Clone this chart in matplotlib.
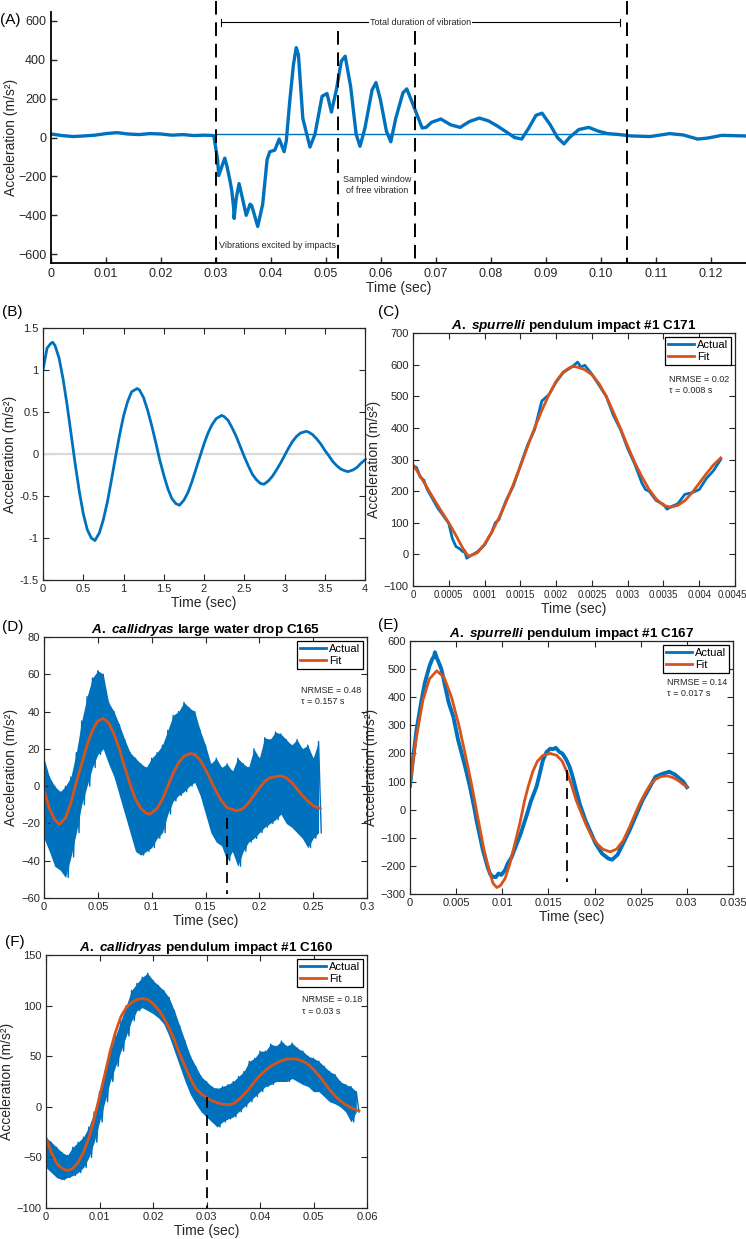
import numpy as np
import matplotlib.pyplot as plt
from matplotlib.transforms import ScaledTranslation

plt.rcParams['font.family'] = ['Liberation Sans', 'DejaVu Sans']
plt.rcParams['mathtext.fontset'] = 'custom'
plt.rcParams['mathtext.it'] = 'Liberation Sans:italic:bold'
plt.rcParams['mathtext.rm'] = 'Liberation Sans:bold'

BLUE = '#0072BD'
ORANGE = '#D95319'
GREY = '#262626'

# ---------------- (A) raw recording ----------------
a_t = [0, 0.002, 0.004, 0.006, 0.008, 0.010, 0.012, 0.014, 0.016, 0.018, 0.020, 0.022,
       0.024, 0.026, 0.028, 0.0296, 0.0303, 0.0305, 0.0311, 0.0316, 0.032, 0.0326, 0.0329,
       0.0332, 0.0333, 0.0337, 0.0342, 0.0348, 0.0355, 0.0362, 0.0365, 0.0376, 0.0385,
       0.0393, 0.0398, 0.0407, 0.0415, 0.0424, 0.0428, 0.0434, 0.0441, 0.0446, 0.0450,
       0.0458, 0.0471, 0.0480, 0.0493, 0.0502, 0.0510, 0.0519, 0.0528, 0.0535, 0.0545,
       0.0555, 0.0562, 0.0571, 0.0584, 0.0591, 0.0599, 0.0610, 0.0618, 0.0627, 0.0640,
       0.0647, 0.0657, 0.0666, 0.0675, 0.0682, 0.0692, 0.0709, 0.0727, 0.0744, 0.0761,
       0.0779, 0.0796, 0.0813, 0.0830, 0.0843, 0.0856, 0.0869, 0.0882, 0.0893, 0.0908,
       0.0921, 0.0933, 0.0943, 0.0960, 0.0978, 0.0995, 0.1012, 0.1030, 0.1055, 0.1090,
       0.1125, 0.1150, 0.1176, 0.1194, 0.1220, 0.1262]
a_v = [18, 10, 5, 8, 12, 20, 25, 18, 15, 20, 18, 12,
       15, 10, 12, 10, -114, -196, -147, -106, -147, -229, -278,
       -359, -416, -310, -237, -310, -400, -343, -350, -457, -343,
       -114, -73, -65, -8, -73, -16, 180, 376, 462, 425,
       98, -49, 16, 212, 226, 131, 245, 392, 418, 261,
       16, -45, 49, 245, 282, 196, 33, -22, 98, 229,
       250, 180, 114, 49, 52, 78, 95, 65, 52, 82,
       100, 85, 57, 25, 0, -8, 49, 114, 125, 65,
       0, -33, 0, 41, 52, 33, 20, 16, 8, 5,
       20, 13, -8, -3, 11, 8]
a_bounds = [0.0300, 0.0522, 0.0662, 0.1047]

# ---------------- (B) model damped oscillation ----------------
b_t = [0, 0.05, 0.1, 0.12, 0.15, 0.2, 0.25, 0.3, 0.35, 0.4, 0.45, 0.5, 0.55, 0.6, 0.645,
       0.7, 0.75, 0.8, 0.85, 0.9, 0.95, 1.0, 1.05, 1.1, 1.17, 1.2, 1.25, 1.3, 1.35, 1.4,
       1.45, 1.5, 1.55, 1.6, 1.65, 1.695, 1.75, 1.8, 1.85, 1.9, 1.95, 2.0, 2.05, 2.1, 2.15,
       2.22, 2.25, 2.3, 2.35, 2.4, 2.45, 2.5, 2.55, 2.6, 2.65, 2.7, 2.745, 2.8, 2.85, 2.9,
       2.95, 3.0, 3.05, 3.1, 3.15, 3.2, 3.27, 3.3, 3.35, 3.4, 3.45, 3.5, 3.55, 3.6, 3.65,
       3.7, 3.75, 3.79, 3.85, 3.9, 3.95, 4.0]
b_v = [1.0, 1.26, 1.32, 1.33, 1.29, 1.14, 0.89, 0.58, 0.23, -0.12, -0.44, -0.71, -0.9,
       -1.0, -1.03, -0.94, -0.78, -0.57, -0.31, -0.04, 0.22, 0.45, 0.62, 0.74, 0.78, 0.76,
       0.67, 0.52, 0.34, 0.14, -0.07, -0.25, -0.41, -0.53, -0.59, -0.61, -0.55, -0.46,
       -0.33, -0.18, -0.03, 0.12, 0.25, 0.35, 0.42, 0.46, 0.445, 0.40, 0.31, 0.21, 0.09,
       -0.03, -0.14, -0.24, -0.305, -0.35, -0.36, -0.32, -0.265, -0.19, -0.11, -0.02, 0.07,
       0.15, 0.21, 0.25, 0.27, 0.26, 0.23, 0.18, 0.12, 0.045, -0.02, -0.09, -0.14, -0.18,
       -0.2, -0.21, -0.19, -0.16, -0.11, -0.07]

# ---------------- (C) A. spurrelli C171 ----------------
c_fit_t = [0, 0.0001, 0.0002, 0.0003, 0.0004, 0.0005, 0.0006, 0.0007, 0.00077, 0.0008,
           0.0009, 0.001, 0.0011, 0.0012, 0.0013, 0.0014, 0.0015, 0.0016, 0.0017, 0.0018,
           0.0019, 0.002, 0.0021, 0.0022, 0.00225, 0.0023, 0.0024, 0.0025, 0.0026, 0.0027,
           0.0028, 0.0029, 0.003, 0.0031, 0.0032, 0.0033, 0.0034, 0.0035, 0.0036, 0.0037,
           0.0038, 0.0039, 0.004, 0.0041, 0.0042, 0.0043]
c_fit_v = [284, 248, 210, 172, 135, 100, 60, 18, -5, -4,
           5, 32, 70, 115, 165, 220, 279, 340, 400, 455,
           505, 547, 577, 592, 594, 592, 584, 568, 540, 500,
           450, 398, 342, 290, 245, 205, 175, 155, 149, 155,
           170, 195, 225, 255, 283, 305]
c_act_t = [0, 0.00005, 0.0001, 0.00015, 0.0002, 0.0003, 0.00035, 0.0004, 0.0005, 0.00055,
           0.0006, 0.00065, 0.0007, 0.00072, 0.00075, 0.0008, 0.0009, 0.001, 0.0011,
           0.00115, 0.0012, 0.0013, 0.0014, 0.0015, 0.0016, 0.0017, 0.0018, 0.0019, 0.002,
           0.0021, 0.0022, 0.00225, 0.0023, 0.00235, 0.0024, 0.0025, 0.0026, 0.0027,
           0.00275, 0.0028, 0.0029, 0.003, 0.0031, 0.0032, 0.00325, 0.0033, 0.0034, 0.0035,
           0.00355, 0.0036, 0.0037, 0.0038, 0.0039, 0.004, 0.0041, 0.0042, 0.0043]
c_act_v = [280, 275, 245, 235, 205, 165, 145, 130, 98, 50,
           25, 18, 8, 12, -12, -5, 8, 30, 70,
           100, 110, 170, 215, 280, 345, 395, 485, 505, 545,
           575, 590, 598, 608, 592, 598, 570, 535, 500,
           470, 440, 395, 335, 285, 225, 205, 200, 170, 158,
           143, 150, 160, 190, 195, 205, 240, 265, 300]

# ---------------- (D) A. callidryas C165 ----------------
d_fit_t = [0, 0.005, 0.01, 0.0143, 0.02, 0.025, 0.03, 0.035, 0.04, 0.045, 0.05, 0.055, 0.06,
           0.065, 0.07, 0.075, 0.08, 0.085, 0.09, 0.095, 0.0986, 0.105, 0.11, 0.115, 0.12,
           0.125, 0.13, 0.1357, 0.14, 0.145, 0.15, 0.155, 0.16, 0.165, 0.17, 0.179, 0.185,
           0.19, 0.195, 0.2, 0.205, 0.21, 0.2194, 0.225, 0.23, 0.235, 0.24, 0.245, 0.25, 0.2566]
d_fit_v = [-2, -12, -18, -20.5, -17, -9, 2, 12, 22, 30, 35, 36.3, 34,
           28, 20, 10, 1, -7, -12, -14.5, -15, -12, -7, 0, 7,
           12.5, 16, 17.5, 17, 14, 9, 3, -3, -8, -11.5, -13.3, -12,
           -9, -5, -1, 2.5, 4.5, 5.5, 4.5, 2, -1.5, -5, -8, -10.5, -12]
d_env_t = [0, 0.005, 0.01, 0.015, 0.02, 0.025, 0.03, 0.035, 0.04, 0.045, 0.05, 0.055, 0.06,
           0.065, 0.07, 0.075, 0.08, 0.085, 0.09, 0.095, 0.1, 0.105, 0.11, 0.115, 0.12,
           0.125, 0.13, 0.135, 0.14, 0.145, 0.15, 0.155, 0.16, 0.165, 0.17, 0.175, 0.18,
           0.185, 0.19, 0.195, 0.2, 0.205, 0.21, 0.215, 0.22, 0.225, 0.23, 0.235, 0.24,
           0.245, 0.25, 0.255]
d_upper = [15, 5, 0, -3, 0, 5, 18, 35, 48, 58, 62, 60, 45,
           40, 33, 25, 18, 15, 12, 10, 15, 18, 22, 30, 38,
           40, 45, 42, 40, 30, 22, 12, 15, 10, 12, 8, 15,
           12, 10, 20, 15, 26, 25, 29, 28, 25, 22, 25, 20,
           22, 15, 24]
d_lower = [-28, -35, -43, -45, -49, -38, -25, -10, 0, 10, 17, 20, 12,
           5, -5, -15, -25, -35, -37, -35, -33, -28, -25, -15, -8,
           -5, -3, 0, 2, -5, -15, -25, -30, -32, -40, -35, -43,
           -35, -30, -28, -25, -22, -20, -18, -15, -20, -22, -25, -28,
           -33, -28, -25]

# ---------------- (E) A. spurrelli C167 ----------------
e_fit_t = [0, 0.0007, 0.0014, 0.0021, 0.0029, 0.0037, 0.0045, 0.0053, 0.006, 0.0067, 0.0074,
           0.008, 0.0086, 0.009, 0.0094, 0.0098, 0.0103, 0.0108, 0.0113, 0.0119, 0.0124,
           0.0128, 0.0133, 0.0138, 0.0144, 0.0152, 0.0159, 0.0165, 0.017, 0.0175, 0.018,
           0.0186, 0.0191, 0.0197, 0.0203, 0.0209, 0.0217, 0.0224, 0.0231, 0.0238, 0.0244,
           0.0249, 0.0255, 0.026, 0.0266, 0.0272, 0.0279, 0.0285, 0.0291, 0.0296, 0.030]
e_fit_v = [93, 259, 389, 465, 494, 470, 400, 300, 195, 85, -37,
           -140, -220, -262, -277, -270, -245, -195, -130, -49, 30,
           81, 135, 172, 193, 200, 193, 172, 134, 88, 34,
           -15, -55, -95, -122, -141, -150, -140, -110, -61, -15,
           22, 60, 87, 108, 118, 120, 114, 103, 90, 82]
e_act_t = [0, 0.0004, 0.0007, 0.0012, 0.0016, 0.0021, 0.0024, 0.0026, 0.0027, 0.0029, 0.0031,
           0.0034, 0.0038, 0.0042, 0.0047, 0.0052, 0.0056, 0.006, 0.0065, 0.007, 0.0072,
           0.0079, 0.0084, 0.0087, 0.009, 0.0093, 0.0096, 0.0099, 0.0103, 0.0106, 0.011,
           0.0113, 0.012, 0.0127, 0.0131, 0.0137, 0.014, 0.0144, 0.0148, 0.0152, 0.0155,
           0.0158, 0.0162, 0.0165, 0.0169, 0.0173, 0.0176, 0.018, 0.0184, 0.019, 0.0201,
           0.0208, 0.0215, 0.0219, 0.0225, 0.0238, 0.0252, 0.0266, 0.0274, 0.0281, 0.0287,
           0.0296, 0.030]
e_act_v = [85, 200, 282, 380, 450, 510, 535, 545, 560, 540, 525,
           500, 440, 380, 330, 250, 200, 150, 81, 0, -37,
           -144, -203, -230, -239, -240, -227, -232, -215, -191, -170,
           -144, -85, -14, 30, 81, 120, 176, 205, 217, 215,
           220, 205, 200, 180, 152, 120, 69, 20, -37, -120,
           -156, -174, -178, -160, -73, 34, 117, 128, 135, 125,
           100, 80]

# ---------------- (F) A. callidryas C160 ----------------
f_fit_t = [0, 0.001, 0.002, 0.003, 0.004, 0.005, 0.006, 0.007, 0.008, 0.009, 0.010, 0.011,
           0.012, 0.013, 0.014, 0.015, 0.016, 0.017, 0.018, 0.019, 0.020, 0.021, 0.022,
           0.023, 0.024, 0.025, 0.026, 0.027, 0.028, 0.029, 0.030, 0.031, 0.032, 0.033,
           0.034, 0.035, 0.036, 0.037, 0.038, 0.039, 0.040, 0.041, 0.042, 0.043, 0.044,
           0.045, 0.046, 0.047, 0.048, 0.049, 0.050, 0.051, 0.052, 0.053, 0.054, 0.055,
           0.056, 0.057, 0.058, 0.0585]
f_fit_v = [-31, -45, -56, -61, -63, -61, -55, -45, -31, -12, 10, 32,
           55, 74, 89, 98, 103, 106, 107, 106, 102, 96, 88,
           78, 66, 52, 40, 28, 18, 13, 9, 6, 4, 2.5,
           2, 3, 7, 12, 18, 25, 31, 36, 40, 43, 45.5,
           47, 47.5, 47, 45, 42, 37, 31, 24, 17, 11, 6,
           2, -1, -3, -4]
f_env_t = [0, 0.001, 0.002, 0.003, 0.004, 0.005, 0.006, 0.007, 0.008, 0.009, 0.010, 0.011,
           0.012, 0.013, 0.014, 0.015, 0.016, 0.017, 0.018, 0.019, 0.020, 0.021, 0.022,
           0.023, 0.024, 0.025, 0.026, 0.027, 0.028, 0.029, 0.030, 0.031, 0.032, 0.033,
           0.034, 0.035, 0.036, 0.037, 0.038, 0.039, 0.040, 0.041, 0.042, 0.043, 0.044,
           0.045, 0.046, 0.047, 0.048, 0.049, 0.050, 0.051, 0.052, 0.053, 0.054, 0.055,
           0.056, 0.057, 0.058]
f_upper = [-30, -35, -40, -45, -48, -40, -35, -30, -20, -5, 15, 35,
           55, 70, 85, 100, 115, 122, 128, 132, 125, 120, 115,
           108, 95, 80, 65, 50, 40, 30, 25, 20, 18, 20,
           22, 25, 30, 35, 45, 48, 55, 55, 62, 60, 65,
           60, 63, 58, 55, 50, 48, 45, 40, 35, 32, 25,
           22, 20, 15]
f_lower = [-60, -65, -70, -72, -70, -68, -65, -60, -50, -35, -15, 5,
           25, 40, 55, 70, 85, 95, 98, 95, 92, 88, 82,
           70, 55, 40, 25, 12, 3, -5, -10, -15, -20, -15,
           -12, -10, -5, 0, 5, 10, 15, 20, 22, 25, 25,
           25, 28, 25, 22, 20, 15, 15, 10, 5, 3, 0,
           -5, -15, -5]


def zigzag(t, upper, lower, step):
    # alternate between the upper and lower edges of the noisy band
    tt = np.column_stack([np.array(t), np.array(t) + step / 2]).ravel()
    vv = np.column_stack([upper, lower]).ravel()
    return tt, vv


fig = plt.figure(figsize=(7.46, 12.39), dpi=100)


def px_axes(l, t, r, b):
    return fig.add_axes([l / 746, 1 - b / 1239, (r - l) / 746, (b - t) / 1239])


def matlab_box(ax):
    ax.tick_params(direction='in', top=True, right=True, length=4, width=0.8,
                   labelsize=8, colors=GREY, pad=3)
    for s in ax.spines.values():
        s.set_linewidth(0.9)
        s.set_color(GREY)
    ax.set_xlabel('Time (sec)', fontsize=10, color=GREY, labelpad=1)
    ax.set_ylabel('Acceleration (m/s²)', fontsize=10, color=GREY, labelpad=2)


def add_legend(ax, txt, tx, ty):
    leg = ax.legend(loc='upper right', fontsize=8, frameon=True, fancybox=False,
                    edgecolor='black', framealpha=1, handlelength=2.3,
                    handletextpad=0.25, borderpad=0.3, labelspacing=0.12,
                    borderaxespad=0.35)
    leg.get_frame().set_linewidth(0.9)
    for ln in leg.get_lines():
        ln.set_linewidth(2)
    ax.text(tx, ty, txt, transform=ax.transAxes, fontsize=6.5, color=GREY,
            ha='left', va='top', linespacing=1.3)


def noisy_band(ax, t, upper, lower, step):
    ax.fill_between(t, upper, lower, color=BLUE, lw=0)
    zt, zv = zigzag(t, upper, lower, step)
    ax.plot(zt, zv, color=BLUE, lw=1.0, label='Actual')


def title(ax, species, rest):
    ax.set_title(r'$\it{' + species.replace(' ', r'\ ') + '}$ ' + rest, fontsize=9.7,
                 fontweight='bold', pad=3)


# ---- A ----
axA = px_axes(51, 12, 746, 263)
axA.plot(a_t, a_v, color=BLUE, lw=2.4, solid_joinstyle='round')
axA.plot([a_bounds[0], a_bounds[3]], [20, 20], color=BLUE, lw=1)
axA.set_xlim(0, 0.1264)
axA.set_ylim(-645, 645)
axA.set_xticks(np.arange(0, 0.121, 0.01))
axA.set_xticklabels(['0'] + ['%.2f' % x for x in np.arange(0.01, 0.121, 0.01)])
axA.set_yticks([-600, -400, -200, 0, 200, 400, 600])
axA.spines['top'].set_visible(False)
axA.spines['right'].set_visible(False)
axA.spines['left'].set_linewidth(1.3)
axA.spines['bottom'].set_linewidth(1.3)
axA.tick_params(direction='in', length=4, width=1, labelsize=9, colors=GREY)
axA.set_xlabel('Time (sec)', fontsize=10, color=GREY, labelpad=1)
axA.set_ylabel('Acceleration (m/s²)', fontsize=10, color=GREY, labelpad=0)
dash = (0, (7, 4))
axA.plot([a_bounds[0]] * 2, [700, -645], color='black', lw=1.4, ls=dash, clip_on=False)
axA.plot([a_bounds[3]] * 2, [700, -645], color='black', lw=1.4, ls=dash, clip_on=False)
axA.plot([a_bounds[1]] * 2, [549, -645], color='black', lw=1.4, ls=dash, clip_on=False)
axA.plot([a_bounds[2]] * 2, [549, -645], color='black', lw=1.4, ls=dash, clip_on=False)
axA.plot([0.031, 0.1035], [592, 592], color='black', lw=0.8)
axA.plot([0.031, 0.031], [575, 609], color='black', lw=0.8)
axA.plot([0.1035, 0.1035], [575, 609], color='black', lw=0.8)
axA.text(0.0672, 592, 'Total duration of vibration', fontsize=6.5, color=GREY,
         ha='center', va='center', bbox=dict(fc='white', ec='none', pad=0.5))
axA.text(0.0594, -245, 'Sampled window\nof free vibration', fontsize=6.5, color=GREY,
         ha='center', va='center', linespacing=1.3)
axA.text(0.0412, -555, 'Vibrations excited by impacts', fontsize=6.5, color=GREY,
         ha='center', va='center')
fig.text(0.0, 1 - 20 / 1239, '(A)', fontsize=11, va='center', ha='left')

# ---- B ----
axB = px_axes(43, 328, 365, 580)
axB.axhline(0, color='#d9d9d9', lw=1.6)
axB.plot(b_t, b_v, color=BLUE, lw=2)
axB.set_xlim(0, 4)
axB.set_ylim(-1.5, 1.5)
axB.set_xticks([0, 0.5, 1, 1.5, 2, 2.5, 3, 3.5, 4])
axB.set_xticklabels(['0', '0.5', '1', '1.5', '2', '2.5', '3', '3.5', '4'])
axB.set_yticks([-1.5, -1, -0.5, 0, 0.5, 1, 1.5])
axB.set_yticklabels(['-1.5', '-1', '-0.5', '0', '0.5', '1', '1.5'])
matlab_box(axB)
fig.text(2 / 746, 1 - 312 / 1239, '(B)', fontsize=11, va='center', ha='left')

# ---- C ----
axC = px_axes(413, 333, 735, 586)
axC.plot(c_act_t, c_act_v, color=BLUE, lw=2, label='Actual')
axC.plot(c_fit_t, c_fit_v, color=ORANGE, lw=2, label='Fit')
axC.set_xlim(0, 0.0045)
axC.set_ylim(-100, 700)
axC.set_xticks(np.arange(0, 0.00451, 0.0005))
axC.set_xticklabels(['0', '0.0005', '0.001', '0.0015', '0.002', '0.0025', '0.003',
                     '0.0035', '0.004', '0.0045'])
axC.set_yticks(np.arange(-100, 701, 100))
matlab_box(axC)
axC.tick_params(axis='x', labelsize=6.9)
last = axC.get_xticklabels()[-1]
last.set_transform(last.get_transform() + ScaledTranslation(-0.03, 0, fig.dpi_scale_trans))
title(axC, 'A. spurrelli', 'pendulum impact #1 C171')
add_legend(axC, 'NRMSE = 0.02\nτ = 0.008 s', 0.795, 0.835)
fig.text(378 / 746, 1 - 312 / 1239, '(C)', fontsize=11, va='center', ha='left')

# ---- D ----
axD = px_axes(44, 637, 367, 898)
noisy_band(axD, d_env_t, d_upper, d_lower, 0.005)
axD.plot(d_fit_t, d_fit_v, color=ORANGE, lw=2, label='Fit')
axD.plot([0.17, 0.17], [-17, -58], color='black', lw=1.3, ls=(0, (6, 4)))
axD.set_xlim(0, 0.3)
axD.set_ylim(-60, 80)
axD.set_xticks([0, 0.05, 0.1, 0.15, 0.2, 0.25, 0.3])
axD.set_xticklabels(['0', '0.05', '0.1', '0.15', '0.2', '0.25', '0.3'])
axD.set_yticks(np.arange(-60, 81, 20))
matlab_box(axD)
title(axD, 'A. callidryas', 'large water drop C165')
add_legend(axD, 'NRMSE = 0.48\nτ = 0.157 s', 0.796, 0.812)
fig.text(2 / 746, 1 - 627 / 1239, '(D)', fontsize=11, va='center', ha='left')

# ---- E ----
axE = px_axes(410, 641, 733, 894)
axE.plot(e_act_t, e_act_v, color=BLUE, lw=2.8, label='Actual')
axE.plot(e_fit_t, e_fit_v, color=ORANGE, lw=2, label='Fit')
axE.plot([0.017, 0.017], [140, -257], color='black', lw=1.3, ls=(0, (6, 4)))
axE.set_xlim(0, 0.035)
axE.set_ylim(-300, 600)
axE.set_xticks([0, 0.005, 0.01, 0.015, 0.02, 0.025, 0.03, 0.035])
axE.set_xticklabels(['0', '0.005', '0.01', '0.015', '0.02', '0.025', '0.03', '0.035'])
axE.set_yticks(np.arange(-300, 601, 100))
matlab_box(axE)
title(axE, 'A. spurrelli', 'pendulum impact #1 C167')
add_legend(axE, 'NRMSE = 0.14\nτ = 0.017 s', 0.796, 0.855)
fig.text(378 / 746, 1 - 625 / 1239, '(E)', fontsize=11, va='center', ha='left')

# ---- F ----
axF = px_axes(46, 955, 367, 1208)
noisy_band(axF, f_env_t, f_upper, f_lower, 0.001)
axF.plot(f_fit_t, f_fit_v, color=ORANGE, lw=2, label='Fit')
axF.plot([0.03, 0.03], [10, -100], color='black', lw=1.3, ls=(0, (6, 4)))
axF.set_xlim(0, 0.06)
axF.set_ylim(-100, 150)
axF.set_xticks([0, 0.01, 0.02, 0.03, 0.04, 0.05, 0.06])
axF.set_xticklabels(['0', '0.01', '0.02', '0.03', '0.04', '0.05', '0.06'])
axF.set_yticks([-100, -50, 0, 50, 100, 150])
matlab_box(axF)
title(axF, 'A. callidryas', 'pendulum impact #1 C160')
add_legend(axF, 'NRMSE = 0.18\nτ = 0.03 s', 0.797, 0.84)
fig.text(5 / 746, 1 - 942 / 1239, '(F)', fontsize=11, va='center', ha='left')

fig.savefig('out.png', dpi=100)
